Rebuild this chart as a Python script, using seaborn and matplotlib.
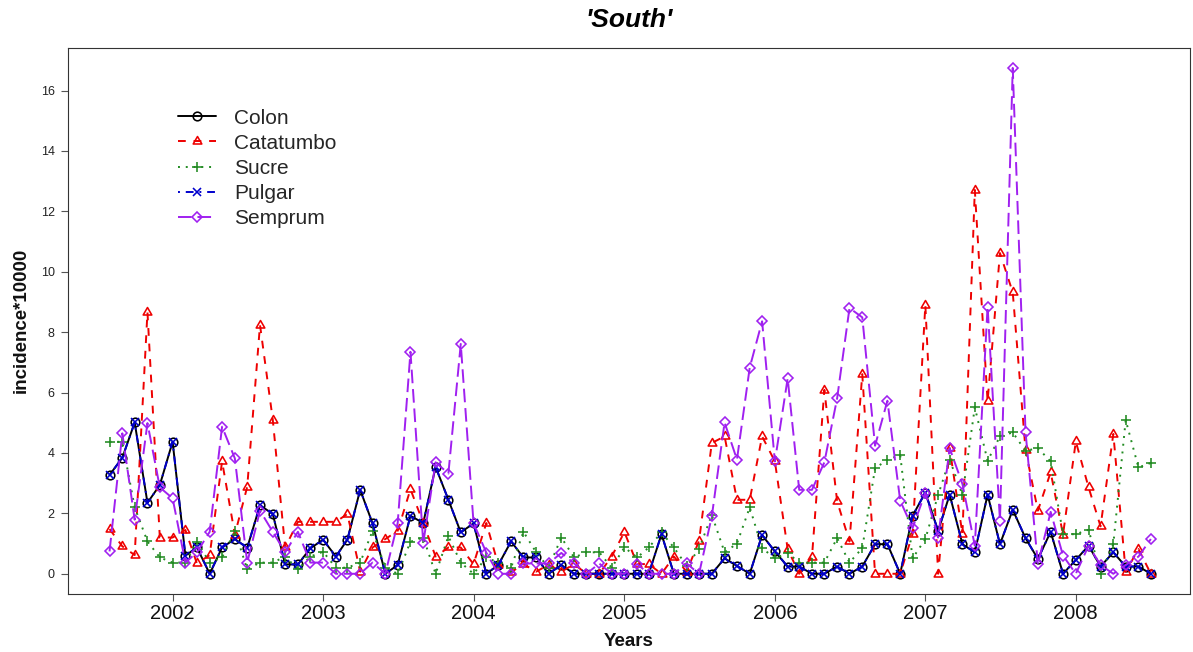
import pandas as pd
import matplotlib
matplotlib.use("Agg")
import matplotlib.pyplot as plt
from matplotlib.path import Path
import seaborn as sns

# Monthly incidence (cases per 10000) for the southern municipalities
months = pd.date_range("2001-08-01", "2008-07-01", freq="MS")

colon = [3.27, 3.84, 5.01, 2.35, 2.94, 4.37, 0.60, 0.87, 0.00, 0.87,
         1.15, 0.86, 2.27, 1.98, 0.31, 0.31, 0.84, 1.13, 0.57, 1.13,
         2.78, 1.67, 0.00, 0.29, 1.92, 1.68, 3.54, 2.45, 1.37, 1.67,
         0.00, 0.29, 1.07, 0.54, 0.54, 0.00, 0.29, 0.00, 0.00, 0.00,
         0.00, 0.00, 0.00, 0.00, 1.31, 0.00, 0.00, 0.00, 0.00, 0.51,
         0.26, 0.00, 1.28, 0.74, 0.24, 0.24, 0.00, 0.00, 0.24, 0.00,
         0.24, 0.98, 0.98, 0.00, 1.92, 2.69, 1.42, 2.62, 0.98, 0.71,
         2.62, 0.98, 2.12, 1.18, 0.49, 1.39, 0.00, 0.46, 0.93, 0.24,
         0.71, 0.24, 0.24, 0.00]

catatumbo = [1.48, 0.91, 0.62, 8.66, 1.20, 1.20, 1.45, 0.34, 0.62, 3.72,
             1.30, 2.88, 8.24, 5.10, 0.87, 1.72, 1.72, 1.72, 1.72, 1.98,
             0.07, 0.87, 1.15, 1.42, 2.80, 1.68, 0.57, 0.87, 0.87, 0.32,
             1.68, 0.30, 0.05, 0.32, 0.07, 0.30, 0.07, 0.32, 0.00, 0.00,
             0.57, 1.38, 0.32, 0.32, 0.00, 0.57, 0.07, 1.09, 4.33, 4.55,
             2.45, 2.45, 4.55, 3.72, 0.82, 0.00, 0.56, 6.09, 2.40, 1.07,
             6.61, 0.00, 0.00, 0.00, 1.31, 8.90, 0.00, 4.16, 1.31, 12.71,
             5.71, 10.62, 9.32, 4.10, 2.09, 3.36, 1.30, 4.38, 2.86, 1.57,
             4.63, 0.07, 0.82, 0.00]

sucre = [4.37, 4.37, 2.20, 1.07, 0.54, 0.37, 0.37, 1.06, 0.37, 0.54,
         1.42, 0.15, 0.37, 0.37, 0.57, 0.15, 0.57, 0.73, 0.20, 0.20,
         0.37, 1.42, 0.20, 0.00, 1.06, 1.20, 0.00, 1.24, 0.37, 0.00,
         0.54, 0.37, 0.20, 1.39, 0.71, 0.20, 1.20, 0.54, 0.71, 0.71,
         0.20, 0.87, 0.54, 0.87, 1.37, 0.87, 0.26, 0.82, 1.95, 0.71,
         1.00, 2.20, 0.85, 0.51, 0.69, 0.37, 0.37, 0.37, 1.18, 0.37,
         0.85, 3.49, 3.78, 3.93, 0.51, 1.15, 2.61, 3.78, 2.61, 5.51,
         3.74, 4.55, 4.68, 4.07, 4.16, 3.72, 1.31, 1.31, 1.46, 0.00,
         0.98, 5.09, 3.52, 3.67]

pulgar = [3.27, 3.84, 5.01, 2.35, 2.94, 4.37, 0.60, 0.87, 0.00, 0.87,
          1.15, 0.86, 2.27, 1.98, 0.31, 0.31, 0.84, 1.13, 0.57, 1.13,
          2.78, 1.67, 0.00, 0.29, 1.92, 1.68, 3.54, 2.45, 1.37, 1.67,
          0.00, 0.29, 1.07, 0.54, 0.54, 0.00, 0.29, 0.00, 0.00, 0.00,
          0.00, 0.00, 0.00, 0.00, 1.31, 0.00, 0.00, 0.00, 0.00, 0.51,
          0.26, 0.00, 1.28, 0.74, 0.24, 0.24, 0.00, 0.00, 0.24, 0.00,
          0.24, 0.98, 0.98, 0.00, 1.92, 2.69, 1.42, 2.62, 0.98, 0.71,
          2.62, 0.98, 2.12, 1.18, 0.49, 1.39, 0.00, 0.46, 0.93, 0.24,
          0.71, 0.24, 0.24, 0.00]

semprum = [0.74, 4.65, 1.79, 4.99, 2.86, 2.50, 0.37, 0.71, 1.39, 4.87,
           3.82, 0.37, 2.09, 1.39, 0.71, 1.39, 0.37, 0.37, 0.00, 0.00,
           0.00, 0.37, 0.00, 1.68, 7.35, 1.02, 3.69, 3.32, 7.61, 1.68,
           0.70, 0.00, 0.00, 0.34, 0.34, 0.34, 0.69, 0.34, 0.00, 0.34,
           0.00, 0.00, 0.32, 0.00, 0.00, 0.00, 0.34, 0.00, 1.90, 5.01,
           3.78, 6.83, 8.36, 3.72, 6.47, 2.78, 2.78, 3.69, 5.81, 8.80,
           8.49, 4.24, 5.73, 2.42, 1.51, 2.69, 1.20, 4.16, 2.97, 0.93,
           8.85, 1.76, 16.75, 4.70, 0.32, 2.05, 0.60, 0.00, 0.93, 0.29,
           0.00, 0.29, 0.57, 1.15]

series_names = ["Colon", "Catatumbo", "Sucre", "Pulgar", "Semprum"]
series_values = [colon, catatumbo, sucre, pulgar, semprum]
year_ticks = [2002, 2003, 2004, 2005, 2006, 2007, 2008]
y_ticks = [0, 2, 4, 6, 8, 10, 12, 14, 16]

sns.set_style("ticks")
plt.rcParams["font.family"] = ["Liberation Sans", "DejaVu Sans"]

# open equilateral triangle centred on its centroid
triangle = Path([(0, 1.155), (1, -0.577), (-1, -0.577), (0, 1.155)],
                [Path.MOVETO, Path.LINETO, Path.LINETO, Path.CLOSEPOLY])

LW = 1.4
looks = {
    "Colon":     dict(color="black",   marker="o",      ls="-",               ms=6.2),
    "Catatumbo": dict(color="#EE0000", marker=triangle, ls=(0, (4, 4)),       ms=7.2),
    "Sucre":     dict(color="#228B22", marker="+",      ls=(0, (1, 3)),       ms=6.6),
    "Pulgar":    dict(color="#0000CD", marker="x",      ls=(0, (1, 3, 4, 3)), ms=5.6),
    "Semprum":   dict(color="#A020F0", marker="D",      ls=(0, (7, 3)),       ms=4.6),
}

W, H = 1193, 652
fig = plt.figure(figsize=(W / 100, H / 100), dpi=100)
left, right, top, bottom = 67.9, 1190.0, 47.7, 594.0
ax = fig.add_axes([left / W, 1 - bottom / H, (right - left) / W, (bottom - top) / H])

for name, values in zip(series_names, series_values):
    st = looks[name]
    sns.lineplot(x=months, y=values, ax=ax, sort=False, errorbar=None,
                 color=st["color"], linestyle=st["ls"], linewidth=LW,
                 marker=st["marker"], markersize=st["ms"],
                 markerfacecolor="none", markeredgecolor=st["color"],
                 markeredgewidth=1.15, label=name)

ax.set_xlim(pd.Timestamp("2001-04-22"), pd.Timestamp("2008-10-04"))
ax.set_ylim(-0.67, 17.42)
ax.set_xticks([pd.Timestamp(f"{y}-01-01") for y in year_ticks])
ax.set_xticklabels([str(y) for y in year_ticks], fontsize=14.5, color="#111")
ax.set_yticks(y_ticks)
ax.set_yticklabels([str(v) for v in y_ticks], fontsize=9, color="#222")
ax.tick_params(axis="both", direction="out", length=5, width=0.8, color="#555")
ax.tick_params(axis="y", pad=4.5)
ax.tick_params(axis="x", pad=2)
for sp in ax.spines.values():
    sp.set_visible(True)
    sp.set_color("#333333")
    sp.set_linewidth(0.8)

ax.set_xlabel("Years", fontsize=13.5, fontweight="bold", color="#111")
ax.set_ylabel("incidence*10000", fontsize=13.5, fontweight="bold", color="#111")
ax.xaxis.set_label_coords(0.5, (bottom - 641) / (bottom - top))
ax.xaxis.label.set_va("center")
ax.yaxis.set_label_coords((21 - left) / (right - left), 0.5)
ax.yaxis.label.set_va("center")

fig.text(0.5 * (left + right) / W, 1 - 20 / H, "'South'", ha="center", va="center",
         fontsize=19, fontweight="bold", fontstyle="italic", color="black")

handles = ax.get_lines()[:5]
ax.legend(handles, series_names, loc="upper left",
          bbox_to_anchor=((178 - left) / (right - left), 1 - (108.5 - top) / (bottom - top)),
          frameon=False, fontsize=15, handlelength=1.8, handletextpad=0.9,
          labelspacing=0.3, borderaxespad=0, borderpad=0, numpoints=1)

fig.savefig("out.png", dpi=100, facecolor="white")
